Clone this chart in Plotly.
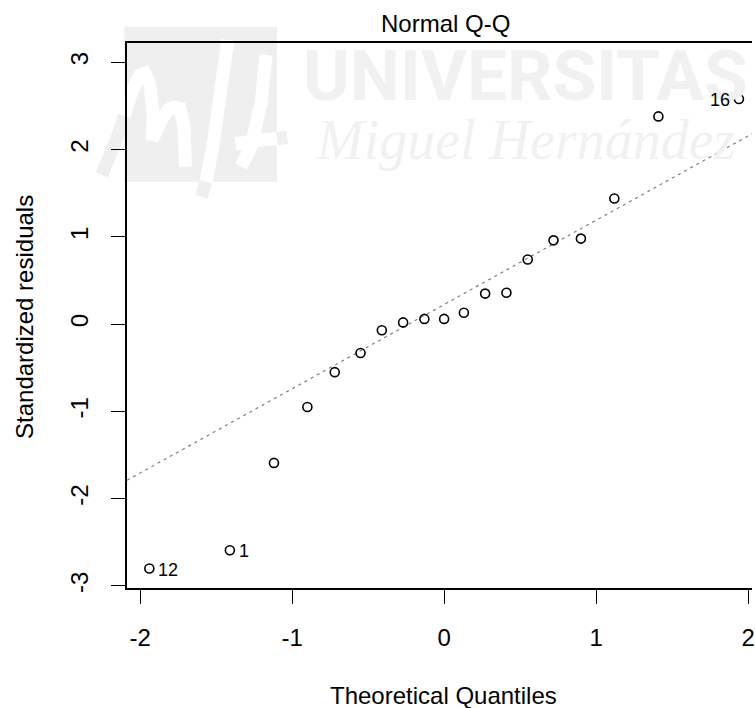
import plotly.graph_objects as go

# ---- data ----
theoretical_q = [-1.94, -1.41, -1.12, -0.90, -0.72, -0.55, -0.41, -0.27, -0.13, 0.0,
                 0.13, 0.27, 0.41, 0.55, 0.72, 0.90, 1.12, 1.41, 1.94]
std_resid = [-2.80, -2.59, -1.59, -0.95, -0.55, -0.33, -0.07, 0.02, 0.06, 0.06,
             0.13, 0.35, 0.36, 0.74, 0.96, 0.98, 1.44, 2.38, 2.58]
point_ids = ["12", "1", "16"]
point_id_pos = [0, 1, 18]
point_id_side = ["right", "right", "left"]
line_intercept = 0.225
line_slope = 0.965
x_ticks = [-2, -1, 0, 1, 2]
y_ticks = [-3, -2, -1, 0, 1, 2, 3]
title_text = "Normal Q-Q"
x_title = "Theoretical Quantiles"
y_title = "Standardized residuals"
wm_line1 = "UNIVERSITAS"
wm_line2 = "Miguel Hernández"

# ---- layout geometry ----
W, H = 755, 708
ML, MR, MT, MB = 127, 0, 43, 120
PW, PH = W - ML - MR, H - MT - MB
x_range = [-2.087, 2.026]
y_range = [-3.023, 3.221]
FONT = "Liberation Sans, Arial, Helvetica, sans-serif"
WM = "#efefef"
WM_TXT = "#f1f1f1"


def px(x):
    return (x - ML) / PW


def py(y):
    return (H - MB - y) / PH


def path_from(points):
    return "M " + " L ".join(f"{px(a):.5f},{py(b):.5f}" for a, b in points)


fig = go.Figure()

# reference line (qqline)
fig.add_trace(go.Scatter(
    x=x_range,
    y=[line_intercept + line_slope * v for v in x_range],
    mode="lines",
    line=dict(color="#7f7f7f", width=1.2, dash="3px,4px"),
    hoverinfo="skip",
))

# points
fig.add_trace(go.Scatter(
    x=theoretical_q, y=std_resid, mode="markers",
    marker=dict(symbol="circle-open", size=9, color="black",
                line=dict(width=1.6, color="black")),
    cliponaxis=False,
))

# ---- watermark (logo) ----
shapes = []
shapes.append(dict(type="rect", xref="paper", yref="paper",
                   x0=px(124.3), x1=px(277.7), y0=py(181.7), y1=py(26.7),
                   fillcolor=WM, line=dict(width=0), layer="below"))
m_stroke = [(101.7, 175), (120, 130), (131.7, 91.7), (140, 75), (145, 73.3),
            (150, 85), (153.3, 113.3), (152.3, 140), (161.7, 120), (168, 110),
            (173.3, 107.3), (180, 108.3), (184.3, 126.7), (185.7, 166.7)]
h_left = [(228.3, 40), (221.7, 86.7), (213.3, 146.7), (206.7, 180), (201.7, 196.7)]
h_right = [(266.7, 55), (261.7, 103.3), (251.7, 146.7), (241.7, 166.7)]
h_bar = [(236, 144), (262, 140), (288, 137.5)]
for s in (m_stroke, h_left, h_right, h_bar):
    shapes.append(dict(type="path", xref="paper", yref="paper", path=path_from(s),
                       line=dict(color="white", width=13), layer="below"))
outside = [[(101.7, 175), (120, 130), (124.3, 115.8)],
           [(206.2, 181.7), (201.7, 196.7)],
           [(277.7, 138.8), (288, 137.5)]]
for s in outside:
    shapes.append(dict(type="path", xref="paper", yref="paper", path=path_from(s),
                       line=dict(color=WM, width=13), layer="below"))

annotations = []
annotations.append(dict(text="<b>" + wm_line1 + "</b>", xref="paper", yref="paper",
                        x=px(527.5), y=py(75), xanchor="center", yanchor="middle",
                        showarrow=False,
                        font=dict(family="Roboto, Liberation Sans, sans-serif",
                                  size=71, color=WM_TXT)))
annotations.append(dict(text="<i>" + wm_line2 + "</i>", xref="paper", yref="paper",
                        x=px(527.5), y=py(140), xanchor="center", yanchor="middle",
                        showarrow=False,
                        font=dict(family="Liberation Serif, Times New Roman, serif",
                                  size=56, color=WM_TXT)))

# point id labels
for lab, pos, side in zip(point_ids, point_id_pos, point_id_side):
    annotations.append(dict(
        text=lab, x=theoretical_q[pos], y=std_resid[pos], xref="x", yref="y",
        showarrow=False, xanchor="left" if side == "right" else "right",
        yanchor="middle", xshift=7 if side == "right" else -7, yshift=-1,
        font=dict(family=FONT, size=18, color="black")))

# titles
annotations.append(dict(text=title_text, xref="paper", yref="paper",
                        x=px(446.7), y=py(23.4), xanchor="center", yanchor="middle",
                        showarrow=False, font=dict(family=FONT, size=24, color="black")))
annotations.append(dict(text=x_title, xref="paper", yref="paper",
                        x=px(445), y=py(695), xanchor="center", yanchor="middle",
                        showarrow=False, font=dict(family=FONT, size=24, color="black")))
annotations.append(dict(text=y_title, xref="paper", yref="paper",
                        x=px(24), y=py(316.5), xanchor="center", yanchor="middle",
                        textangle=-90,
                        showarrow=False, font=dict(family=FONT, size=24, color="black")))

axis_common = dict(
    ticks="outside", ticklen=14, tickwidth=1.3, tickcolor="black",
    showline=True, linecolor="black", linewidth=1.5,
    showgrid=False, zeroline=False, ticklabeloverflow="allow",
    tickfont=dict(family=FONT, size=24, color="black"),
)

fig.update_layout(
    width=W, height=H,
    margin=dict(l=ML, r=MR, t=MT, b=MB, pad=0),
    paper_bgcolor="white", plot_bgcolor="white",
    showlegend=False,
    shapes=shapes,
    annotations=annotations,
    xaxis=dict(range=x_range, tickvals=x_ticks, ticktext=[str(v) for v in x_ticks],
               mirror=True, ticklabelstandoff=13, **axis_common),
    yaxis=dict(range=y_range, tickvals=y_ticks, ticktext=[str(v) for v in y_ticks],
               mirror=False, tickangle=-90, ticklabelstandoff=14, **axis_common),
)

fig.write_html("out.html")
